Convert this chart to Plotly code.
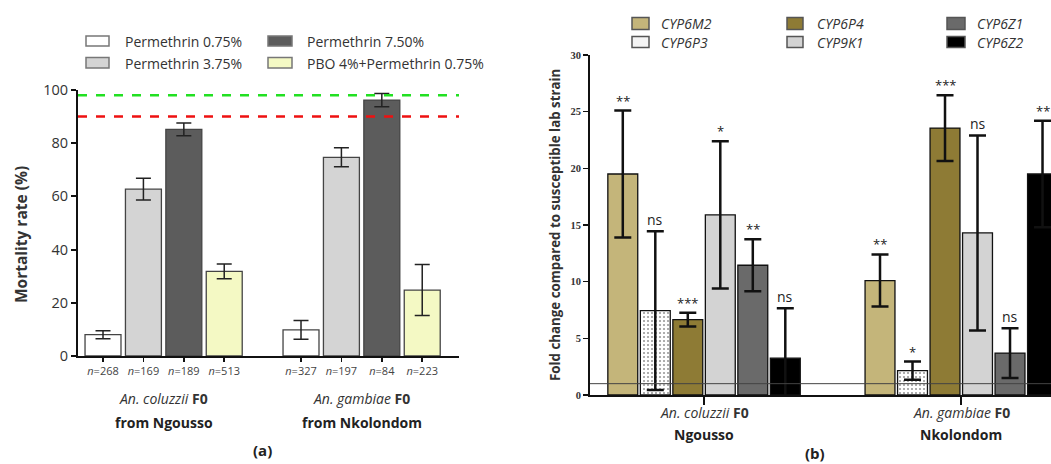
import plotly.graph_objects as go

W, H = 1051, 464
def px(x): return x / W
def py(y): return 1 - y / H

# ---------------- Panel (a) data ----------------
treatments = ["Permethrin 0.75%", "Permethrin 3.75%", "Permethrin 7.50%", "PBO 4%+Permethrin 0.75%"]
mort_coluzzii = [8.0, 62.7, 85.2, 31.8]
err_coluzzii = [1.5, 4.1, 2.4, 2.8]
mort_gambiae = [9.8, 74.7, 96.2, 24.8]
err_gambiae = [3.5, 3.6, 2.5, 9.6]
n_coluzzii = [268, 169, 189, 513]
n_gambiae = [327, 197, 84, 223]
threshold_susceptible = 98
threshold_resistant = 90
colors_a = ["#ffffff", "#d4d4d4", "#5c5c5c", "#f4f9c4"]

# ---------------- Panel (b) data ----------------
genes = ["CYP6M2", "CYP6P3", "CYP6P4", "CYP9K1", "CYP6Z1", "CYP6Z2"]
fold_ngousso = [19.5, 7.45, 6.65, 15.9, 11.45, 3.25]
err_ngousso = [5.6, 7.0, 0.6, 6.5, 2.3, 4.4]
fold_nkolondom = [10.1, 2.15, 23.55, 14.3, 3.7, 19.5]
err_nkolondom = [2.3, 0.8, 2.9, 8.6, 2.2, 4.7]
sig_ngousso = ["**", "ns", "***", "*", "**", "ns"]
sig_nkolondom = ["**", "*", "***", "ns", "ns", "**"]
colors_b = ["#c4b57a", "#ffffff", "#8e7b35", "#d3d3d3", "#6a6a6a", "#000000"]

FONT = "Open Sans"
fig = go.Figure()

# panel (a) bars
step_a = 4.9
for i, t in enumerate(treatments):
    fig.add_trace(go.Bar(
        x=[i, step_a + i], y=[mort_coluzzii[i], mort_gambiae[i]],
        width=0.89, name=t, showlegend=False,
        marker=dict(color=colors_a[i], line=dict(color="#444444", width=1.3)),
        error_y=dict(type="data", array=[err_coluzzii[i], err_gambiae[i]],
                     color="#222222", thickness=1.5, width=7.5),
        xaxis="x", yaxis="y"))

# panel (b) bars
step_b = 7.914
for i, g in enumerate(genes):
    marker = dict(color=colors_b[i], line=dict(color="#111111", width=1.3))
    if g == "CYP6P3":
        marker["pattern"] = dict(shape=".", fgcolor="#9a9a9a", bgcolor="#ffffff", size=4, solidity=0.22)
    fig.add_trace(go.Bar(
        x=[i, step_b + i], y=[fold_ngousso[i], fold_nkolondom[i]],
        width=0.92, name=g, showlegend=False, marker=marker,
        error_y=dict(type="data", array=[err_ngousso[i], err_nkolondom[i]],
                     color="#111111", thickness=2.5, width=8.5),
        xaxis="x2", yaxis="y2"))

annotations = []
shapes = []

def note(x, y, text, size, color="#333333", xref="paper", yref="paper", xanchor="center",
         yanchor="middle", **kw):
    annotations.append(dict(x=x, y=y, xref=xref, yref=yref, text=text, showarrow=False,
                            xanchor=xanchor, yanchor=yanchor,
                            font=dict(family=FONT, size=size, color=color), **kw))

# significance labels
for i in range(len(genes)):
    for xv, val, er, s in [(i, fold_ngousso[i], err_ngousso[i], sig_ngousso[i]),
                           (step_b + i, fold_nkolondom[i], err_nkolondom[i], sig_nkolondom[i])]:
        note(xv, val + er, s, 14 if s == "ns" else 13, "#222222", xref="x2", yref="y2",
             yanchor="bottom", yshift=-1 if s != "ns" else 0)

# thresholds panel (a)
shapes.append(dict(type="line", xref="x domain", yref="y", x0=0, x1=1, y0=threshold_susceptible,
                   y1=threshold_susceptible, line=dict(color="#22e022", width=2.5, dash="dash"), layer="above"))
shapes.append(dict(type="line", xref="x domain", yref="y", x0=0, x1=1, y0=threshold_resistant,
                   y1=threshold_resistant, line=dict(color="#ee1111", width=2.5, dash="dash"), layer="above"))
# reference line y=1 panel (b)
shapes.append(dict(type="line", xref="x2 domain", yref="y2", x0=0, x1=1, y0=1, y1=1,
                   line=dict(color="#444444", width=1), layer="above"))

# legend panel (a)
leg_a = [(0, 0), (0, 1), (1, 0), (1, 1)]  # (col,row) for each treatment
col_box_a = [(86, 109, 123), (268, 292, 305)]
row_a = [(36, 46, 41), (57.5, 68, 63)]
for i, t in enumerate(treatments):
    c, r = leg_a[i]
    bx0, bx1, tx = col_box_a[c]
    by0, by1, ty = row_a[r]
    shapes.append(dict(type="rect", xref="paper", yref="paper", x0=px(bx0), x1=px(bx1),
                       y0=py(by1), y1=py(by0), fillcolor=colors_a[i], line=dict(color="#777777", width=1.5)))
    note(px(tx), py(ty), t, 14, xanchor="left")

# legend panel (b)
col_box_b = [(632, 649, 659), (787, 803, 815), (947, 965, 975)]
row_b = [(17.5, 29.5, 23.5), (36.5, 47.5, 42)]
for i, g in enumerate(genes):
    c, r = i // 2, i % 2
    bx0, bx1, tx = col_box_b[c]
    by0, by1, ty = row_b[r]
    fill = colors_b[i] if g != "CYP6P3" else "#f4f4f4"
    shapes.append(dict(type="rect", xref="paper", yref="paper", x0=px(bx0), x1=px(bx1),
                       y0=py(by1), y1=py(by0), fillcolor=fill, line=dict(color="#555555", width=1.5)))
    note(px(tx), py(ty), "<i>%s</i>" % g, 14, xanchor="left")

# group labels panel (a)
grp_a = [("<i>An. coluzzii</i> <b>F0</b>", "<b>from Ngousso</b>", 1.5),
         ("<i>An. gambiae</i> <b>F0</b>", "<b>from Nkolondom</b>", step_a + 1.5)]
for l1, l2, xc in grp_a:
    note(xc, py(398), l1, 14, xref="x")
    note(xc, py(422), l2, 14, "#222222", xref="x")
note(px(262), py(450), "<b>(a)</b>", 15, "#222222")

# group labels panel (b)
grp_b = [("<i>An. coluzzii</i> <b>F0</b>", "<b>Ngousso</b>", 2.5),
         ("<i>An. gambiae</i> <b>F0</b>", "<b>Nkolondom</b>", step_b + 2.5)]
for l1, l2, xc in grp_b:
    note(xc, py(412), l1, 14, xref="x2")
    note(xc, py(434), l2, 14, "#222222", xref="x2")
note(px(815), py(453), "<b>(b)</b>", 15, "#222222")

# y titles
note(px(21), py(235), "<b>Mortality rate (%)</b>", 15.5, textangle=-90)
note(px(555), py(225), "<b>Fold change compared to susceptible lab strain</b>", 13.3, textangle=-90)

tickvals_a = [i for i in range(4)] + [step_a + i for i in range(4)]
ticktext_a = ["<i>n</i>=%d" % n for n in n_coluzzii + n_gambiae]

fig.update_layout(
    template="none",
    width=W, height=H, autosize=False, margin=dict(l=0, r=0, t=0, b=0, pad=0),
    paper_bgcolor="white", plot_bgcolor="white", barmode="overlay",
    showlegend=False,
    xaxis=dict(domain=[px(78), px(459)], anchor="y", range=[-0.619, 8.81], automargin=False,
               showline=True, linecolor="#111111", linewidth=2, showgrid=False, zeroline=False,
               tickmode="array", tickvals=tickvals_a, ticktext=ticktext_a,
               ticks="outside", ticklen=4, tickwidth=1.5, tickcolor="#111111",
               tickfont=dict(family=FONT, size=11, color="#444444")),
    yaxis=dict(domain=[py(356), py(90)], anchor="x", range=[0, 100], automargin=False,
               showline=True, linecolor="#111111", linewidth=2, showgrid=False, zeroline=False,
               tickmode="array", tickvals=[0, 20, 40, 60, 80, 100],
               ticks="outside", ticklen=5, tickwidth=2, tickcolor="#111111",
               tickfont=dict(family=FONT, size=14.5, color="#333333")),
    xaxis2=dict(domain=[px(590), 1.0], anchor="y2", range=[-1.009, 13.175], automargin=False,
                showline=True, linecolor="#111111", linewidth=2, showgrid=False, zeroline=False,
                tickmode="array", tickvals=[2.5, step_b + 2.5], ticktext=["", ""],
                ticks="outside", ticklen=8, tickwidth=2, tickcolor="#111111"),
    yaxis2=dict(domain=[py(395), py(55)], anchor="x2", range=[0, 30], automargin=False,
                showline=True, linecolor="#111111", linewidth=2, showgrid=False, zeroline=False,
                tickmode="array", tickvals=[0, 5, 10, 15, 20, 25, 30],
                ticks="outside", ticklen=5, tickwidth=1.5, tickcolor="#111111",
                tickfont=dict(family="Liberation Serif", size=10.5, color="#333333", weight="bold")),
    annotations=annotations, shapes=shapes,
)

fig.write_html("out.html", config={"displayModeBar": False, "staticPlot": True},
               post_script="document.body.style.margin='0';document.body.style.overflow='hidden';")
